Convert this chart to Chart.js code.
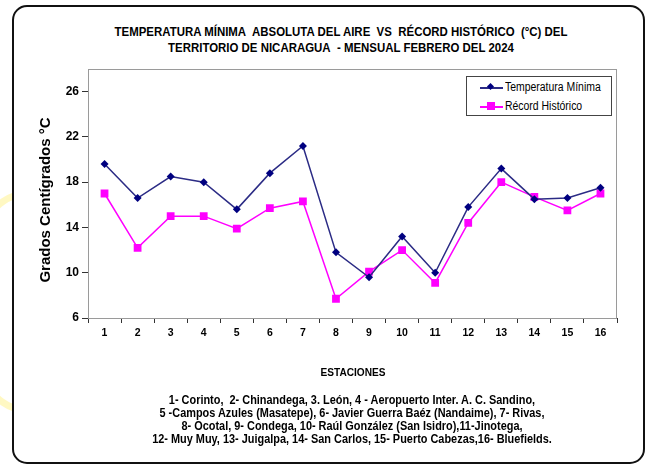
<!DOCTYPE html>
<html>
<head>
<meta charset="utf-8">
<script src="https://cdn.jsdelivr.net/npm/chart.js@4"></script>
<style>
  html, body { margin: 0; padding: 0; background: #fff; }
  #page { position: relative; width: 650px; height: 468px; overflow: hidden; font-family: "Liberation Sans", Arial, sans-serif; color: #000; }
  #mark { position: absolute; left: -40px; top: 190px; width: 120px; height: 210px; border: 7px solid rgba(255, 236, 80, 0.35); border-radius: 50%; }
  #frame { position: absolute; left: 12px; top: 5px; width: 633px; height: 459px; box-sizing: border-box; border: 2px solid #111; border-radius: 15px; background: #fff; }
  #chartWrap { position: absolute; left: 0; top: 0; width: 650px; height: 468px; }
  .narrow { transform-origin: center center; white-space: nowrap; }
  .title { position: absolute; left: 41px; top: 24px; width: 600px; text-align: center; font-weight: bold; font-size: 13px; line-height: 16px; transform: scaleX(0.88); }
  .ytitle { position: absolute; left: -55px; top: 191px; width: 200px; height: 18px; line-height: 18px; text-align: center; font-weight: bold; font-size: 15px; transform: rotate(-90deg); }
  .axisname { position: absolute; left: 253px; top: 365px; width: 200px; text-align: center; font-weight: bold; font-size: 11px; line-height: 14px; transform: scaleX(0.92); }
  .stations { position: absolute; left: 52px; top: 394px; width: 600px; text-align: center; font-weight: bold; font-size: 12px; line-height: 13px; transform: scaleX(0.91); }
  #legend { position: absolute; left: 466px; top: 76px; width: 146px; height: 40px; box-sizing: border-box; border: 1px solid #444; background: #fff; font-size: 12px; }
  .item { position: absolute; left: 13px; height: 14px; line-height: 14px; white-space: nowrap; }
  .item .ln { position: absolute; left: 0; top: 7px; width: 23px; height: 1.5px; }
  .item .mk { position: absolute; }
  .item .tx { position: absolute; left: 25px; top: 0; transform: scaleX(0.87); transform-origin: left center; }
</style>
</head>
<body>
<div id="page">
  <div id="mark"></div>
  <div id="frame"></div>
  <div class="title narrow">TEMPERATURA MÍNIMA&nbsp; ABSOLUTA DEL AIRE&nbsp; VS&nbsp; RÉCORD HISTÓRICO&nbsp; (°C) DEL<br>TERRITORIO DE NICARAGUA&nbsp; - MENSUAL FEBRERO DEL 2024</div>
  <div id="chartWrap"><canvas id="tempChart" width="650" height="468"></canvas></div>
  <div class="ytitle">Grados Centígrados °C</div>
  <div id="legend">
    <div class="item" style="top:3px">
      <div class="ln" style="background:#2b2b85"></div>
      <div class="mk" style="left:8px;top:4px;width:5px;height:5px;background:#000080;transform:rotate(45deg)"></div>
      <div class="tx">Temperatura Mínima</div>
    </div>
    <div class="item" style="top:22px">
      <div class="ln" style="background:#ff00ff"></div>
      <div class="mk" style="left:7px;top:3px;width:8px;height:8px;background:#ff00ff"></div>
      <div class="tx">Récord Histórico</div>
    </div>
  </div>
  <div class="axisname narrow">ESTACIONES</div>
  <div class="stations narrow">1- Corinto,&nbsp; 2- Chinandega, 3. León, 4 - Aeropuerto Inter. A. C. Sandino,<br>5 -Campos Azules (Masatepe), 6- Javier Guerra Baéz (Nandaime), 7- Rivas,<br>8- Ocotal, 9- Condega, 10- Raúl González (San Isidro),11-Jinotega,<br>12- Muy Muy, 13- Juigalpa, 14- San Carlos, 15- Puerto Cabezas,16- Bluefields.</div>
</div>
<script>
const stations = ["1", "2", "3", "4", "5", "6", "7", "8", "9", "10", "11", "12", "13", "14", "15", "16"];
const tempMin = [19.6, 16.6, 18.5, 18.0, 15.6, 18.8, 21.2, 11.8, 9.6, 13.2, 10.0, 15.8, 19.2, 16.5, 16.6, 17.5];
const record = [17.0, 12.2, 15.0, 15.0, 13.9, 15.7, 16.3, 7.7, 10.1, 12.0, 9.1, 14.4, 18.0, 16.7, 15.5, 17.0];
const yTicks = [6, 10, 14, 18, 22, 26];

// gray frame round the plot, the axes are drawn over it on left and bottom
const plotFrame = {
    id: "plotFrame",
    beforeDatasetsDraw(chart) {
        const { ctx, chartArea: a } = chart;
        ctx.save();
        ctx.strokeStyle = "#9a9a9a";
        ctx.lineWidth = 1;
        ctx.strokeRect(a.left + 0.5, a.top + 0.5, a.right - a.left - 1, a.bottom - a.top);
        ctx.restore();
    },
};

const ctx = document.getElementById("tempChart").getContext("2d");
new Chart(ctx, {
    type: "line",
    data: {
        labels: stations,
        datasets: [
            {
                label: "Temperatura Mínima",
                data: tempMin,
                borderColor: "#2b2b85",
                backgroundColor: "#000080",
                borderWidth: 1.5,
                pointStyle: "rectRot",
                pointRadius: 4,
                pointBorderWidth: 0,
                tension: 0,
            },
            {
                label: "Récord Histórico",
                data: record,
                borderColor: "#ff00ff",
                backgroundColor: "#ff00ff",
                borderWidth: 1.5,
                pointStyle: "rect",
                pointRadius: 5.5,
                pointBorderWidth: 0,
                tension: 0,
            },
        ],
    },
    options: {
        responsive: false,
        animation: false,
        layout: { padding: { left: 30, right: 33, top: 69, bottom: 0 } },
        plugins: {
            legend: { display: false },
            title: { display: false },
            tooltip: { enabled: false },
        },
        scales: {
            x: {
                offset: true,
                afterFit: scale => { scale.height = 150; },
                grid: { offset: true, drawOnChartArea: false, drawTicks: true, tickLength: 5, color: "#333" },
                border: { color: "#333", width: 1 },
                ticks: { color: "#000", padding: 4, font: { family: "Liberation Sans", size: 10.5, weight: "bold" } },
            },
            y: {
                min: 6,
                max: 28,
                afterFit: scale => { scale.width = 58; },
                afterBuildTicks: scale => { scale.ticks = yTicks.map(v => ({ value: v })); },
                grid: { drawOnChartArea: false, drawTicks: true, tickLength: 6, color: "#333" },
                border: { color: "#333", width: 1 },
                ticks: { color: "#000", padding: 3, font: { family: "Liberation Sans", size: 12, weight: "bold" } },
            },
        },
    },
    plugins: [plotFrame],
});
</script>
</body>
</html>
